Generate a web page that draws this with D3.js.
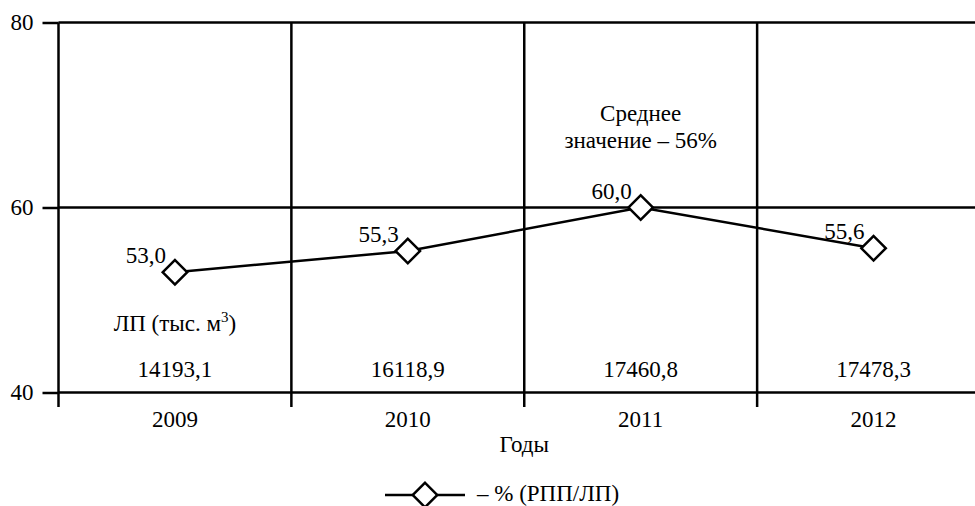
<!DOCTYPE html>
<html>
<head>
<meta charset="utf-8">
<script src="https://cdn.jsdelivr.net/npm/d3@7"></script>
<style>
  body { margin: 0; background: #fff; }
  svg text { font-family: "Liberation Serif", "Tinos", "DejaVu Serif", "Times New Roman", serif !important; }
</style>
</head>
<body>
<script>
const years = ["2009", "2010", "2011", "2012"];
const share = [53.0, 55.3, 60.0, 55.6];          // % (РПП/ЛП)
const shareLabels = ["53,0", "55,3", "60,0", "55,6"];
const lpLabels = ["14193,1", "16118,9", "17460,8", "17478,3"];
const yTicks = [40, 60, 80];

const W = 975, H = 506;
const FONT = "Liberation Serif, Tinos, DejaVu Serif, serif";
const FS = 23;
const svg = d3.select("body").append("svg")
  .attr("width", W)
  .attr("height", H)
  .attr("font-family", FONT);

const x = d3.scaleBand().domain(years).range([58.5, 990]).padding(0);
const y = d3.scaleLinear().domain([40, 80]).range([392.5, 22.5]);
const cx = d => x(d) + x.bandwidth() / 2;

// horizontal grid
svg.selectAll(".hgrid")
  .data(yTicks)
  .enter().append("line")
    .attr("x1", 58.5).attr("x2", W)
    .attr("y1", d => y(d)).attr("y2", d => y(d))
    .attr("stroke", "#000").attr("stroke-width", 2.5);

// vertical lines at band edges (with tick below axis)
svg.selectAll(".vgrid")
  .data(years)
  .enter().append("line")
    .attr("x1", d => x(d)).attr("x2", d => x(d))
    .attr("y1", y(80)).attr("y2", 407)
    .attr("stroke", "#000").attr("stroke-width", 2.5);

// y axis ticks and labels
const yAxis = d3.axisLeft(y).tickValues(yTicks).tickSize(16).tickPadding(9);
const gy = svg.append("g").attr("transform", "translate(58.5,0)").call(yAxis)
  .attr("font-family", FONT);
gy.select(".domain").remove();
gy.selectAll(".tick line").attr("stroke", "#000").attr("stroke-width", 2.5);
gy.selectAll(".tick text")
  .attr("font-family", FONT).attr("font-size", FS)
  .attr("fill", "#000").attr("dy", "0.32em");

// x labels
const xAxis = d3.axisBottom(x).tickSize(0).tickPadding(0);
const gx = svg.append("g").attr("transform", "translate(0,392.5)").call(xAxis)
  .attr("font-family", FONT);
gx.select(".domain").remove();
gx.selectAll(".tick text")
  .attr("font-family", FONT).attr("font-size", FS)
  .attr("fill", "#000").attr("y", 34).attr("dy", 0);

svg.append("text")
  .attr("x", (58.5 + 990) / 2).attr("y", 452)
  .attr("text-anchor", "middle").attr("font-size", FS)
  .text("Годы");

// LP row
svg.append("text")
  .attr("x", cx("2009")).attr("y", 331)
  .attr("text-anchor", "middle").attr("font-size", FS)
  .html('ЛП (тыс. м<tspan dy="-9" font-size="15">3</tspan><tspan dy="9">)</tspan>');

svg.selectAll(".lp")
  .data(years)
  .enter().append("text")
    .attr("x", d => cx(d)).attr("y", 377)
    .attr("text-anchor", "middle").attr("font-size", FS)
    .text((d, i) => lpLabels[i]);

// average note
svg.append("text")
  .attr("x", cx("2011")).attr("y", 121)
  .attr("text-anchor", "middle").attr("font-size", FS)
  .text("Среднее");
svg.append("text")
  .attr("x", cx("2011")).attr("y", 148)
  .attr("text-anchor", "middle").attr("font-size", FS)
  .text("значение – 56%");

// line
const pts = years.map((d, i) => [cx(d), y(share[i])]);
svg.append("path")
  .attr("d", d3.line()(pts))
  .attr("fill", "none").attr("stroke", "#000").attr("stroke-width", 2.5);

const diamond = d3.symbol().type(d3.symbolSquare).size(300);
svg.selectAll(".pt")
  .data(pts)
  .enter().append("path")
    .attr("d", diamond)
    .attr("transform", d => `translate(${d[0]},${d[1]}) rotate(45)`)
    .attr("fill", "#fff").attr("stroke", "#000").attr("stroke-width", 2.5);

svg.selectAll(".ptlab")
  .data(pts)
  .enter().append("text")
    .attr("x", d => d[0] - 9).attr("y", d => d[1] - 9)
    .attr("text-anchor", "end").attr("font-size", FS)
    .text((d, i) => shareLabels[i]);

// legend
svg.append("line")
  .attr("x1", 385).attr("x2", 465).attr("y1", 495).attr("y2", 495)
  .attr("stroke", "#000").attr("stroke-width", 2.5);
svg.append("path")
  .attr("d", diamond)
  .attr("transform", "translate(425,495) rotate(45)")
  .attr("fill", "#fff").attr("stroke", "#000").attr("stroke-width", 2.5);
svg.append("text")
  .attr("x", 477).attr("y", 501).attr("font-size", FS)
  .text("– % (РПП/ЛП)");
</script>
</body>
</html>
